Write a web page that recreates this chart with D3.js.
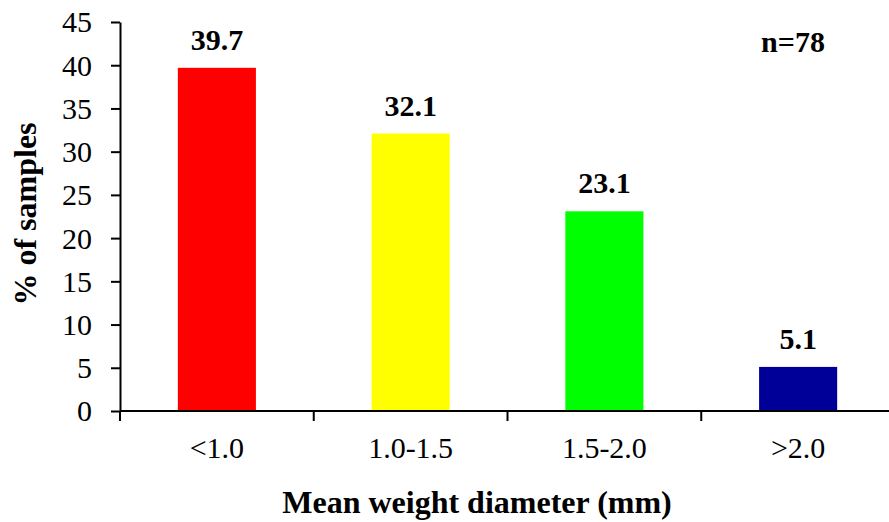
<!DOCTYPE html>
<html>
<head>
<meta charset="utf-8">
<script src="https://cdn.jsdelivr.net/npm/d3@7/dist/d3.min.js"></script>
<style>
  html, body { margin: 0; padding: 0; background: #fff; }
  svg { display: block; }
  text { font-family: "Liberation Serif", "Times New Roman", serif; fill: #000; }
</style>
</head>
<body>
<svg id="chart" width="889" height="522"></svg>
<script>
// Share of samples by mean weight diameter class
const categories = ["<1.0", "1.0-1.5", "1.5-2.0", ">2.0"];
const values = [39.7, 32.1, 23.1, 5.1];
const barColors = ["#FF0000", "#FFFF00", "#00FF00", "#000099"];
const yTicks = [0, 5, 10, 15, 20, 25, 30, 35, 40, 45];

const svg = d3.select("#chart");
const plotLeft = 120, plotRight = 895, plotTop = 22, plotBottom = 411;

const x = d3.scaleBand().domain(categories).range([plotLeft, plotRight]).padding(0);
const y = d3.scaleLinear().domain([0, 45]).range([plotBottom, plotTop]);
const barW = x.bandwidth() * 0.403;

// Bars
svg.append("g").selectAll("rect")
  .data(categories)
  .join("rect")
  .attr("x", (c) => x(c) + (x.bandwidth() - barW) / 2)
  .attr("y", (c, i) => y(values[i]))
  .attr("width", barW)
  .attr("height", (c, i) => y(0) - y(values[i]))
  .attr("fill", (c, i) => barColors[i]);

// Value labels above bars
svg.append("g").selectAll("text")
  .data(categories)
  .join("text")
  .attr("x", (c) => x(c) + x.bandwidth() / 2)
  .attr("y", (c, i) => y(values[i]) - 18)
  .attr("text-anchor", "middle")
  .style("font-size", "30px")
  .style("font-weight", "bold")
  .text((c, i) => values[i].toFixed(1));

// Y axis
const yAxis = svg.append("g")
  .attr("transform", `translate(${plotLeft},0)`)
  .call(d3.axisLeft(y).tickValues(yTicks).tickSize(9).tickPadding(19).tickSizeOuter(0));
yAxis.select(".domain").attr("stroke", "#000").attr("stroke-width", 2);
yAxis.selectAll(".tick line").attr("stroke", "#000").attr("stroke-width", 2);
yAxis.selectAll(".tick text")
  .style("font-family", "'Liberation Serif', 'Times New Roman', serif")
  .style("font-size", "30px")
  .attr("dy", "0.33em");

// X axis: line with ticks at category boundaries
const xAxisG = svg.append("g");
xAxisG.append("line")
  .attr("x1", plotLeft).attr("x2", plotRight)
  .attr("y1", y(0)).attr("y2", y(0))
  .attr("stroke", "#000").attr("stroke-width", 2);
const bounds = categories.map((c) => x(c)).concat([x(categories[categories.length - 1]) + x.bandwidth()]);
xAxisG.selectAll("line.tick")
  .data(bounds)
  .join("line")
  .attr("class", "tick")
  .attr("x1", (d) => d).attr("x2", (d) => d)
  .attr("y1", y(0)).attr("y2", y(0) + 10)
  .attr("stroke", "#000").attr("stroke-width", 2);
xAxisG.selectAll("text")
  .data(categories)
  .join("text")
  .attr("x", (c) => x(c) + x.bandwidth() / 2)
  .attr("y", 458)
  .attr("text-anchor", "middle")
  .style("font-size", "30px")
  .text((c) => c);

// Axis titles
svg.append("text")
  .attr("x", 477)
  .attr("y", 513)
  .attr("text-anchor", "middle")
  .style("font-size", "32px")
  .style("font-weight", "bold")
  .text("Mean weight diameter (mm)");

svg.append("text")
  .attr("transform", "translate(36,214) rotate(-90)")
  .attr("text-anchor", "middle")
  .style("font-size", "32px")
  .style("font-weight", "bold")
  .text("% of samples");

// Sample size
svg.append("text")
  .attr("x", 793)
  .attr("y", 52)
  .attr("text-anchor", "middle")
  .style("font-size", "30px")
  .style("font-weight", "bold")
  .text("n=78");
</script>
</body>
</html>
